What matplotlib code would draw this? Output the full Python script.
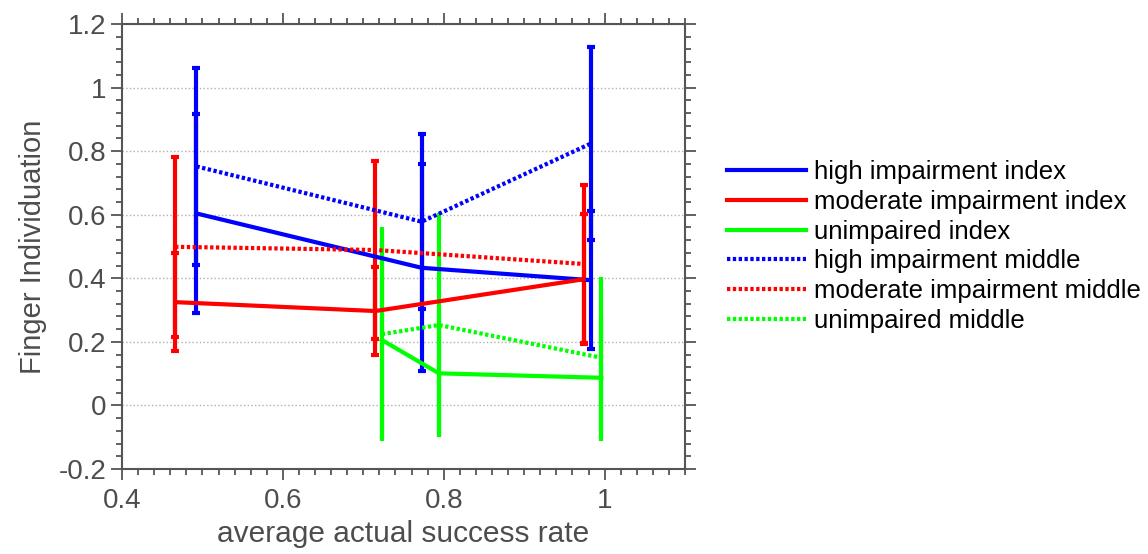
import numpy as np
import matplotlib
matplotlib.use("Agg")
import matplotlib.pyplot as plt
from matplotlib.lines import Line2D
from matplotlib.ticker import MultipleLocator, FuncFormatter

plt.rcParams['font.family'] = ['Liberation Sans', 'DejaVu Sans']
plt.rcParams['axes.unicode_minus'] = False

# success rate (x) for each group
x_high = [0.4925, 0.7725, 0.983]
x_mod = [0.466, 0.715, 0.974]
x_unimp = [0.723, 0.794, 0.996]

# finger individuation: index finger
high_index = [0.604, 0.433, 0.394]
high_index_err = [0.313, 0.325, 0.217]
mod_index = [0.325, 0.297, 0.397]
mod_index_err = [0.155, 0.137, 0.205]
unimp_index = [0.206, 0.101, 0.087]
unimp_index_err = [0.31, 0.2, 0.198]

# finger individuation: middle finger
high_middle = [0.752, 0.578, 0.824]
high_middle_err = [0.31, 0.275, 0.305]
mod_middle = [0.499, 0.489, 0.445]
mod_middle_err = [0.283, 0.28, 0.25]
unimp_middle = [0.224, 0.253, 0.15]
unimp_middle_err = [0.336, 0.353, 0.253]

labels = ["high impairment index", "moderate impairment index", "unimpaired index",
          "high impairment middle", "moderate impairment middle", "unimpaired middle"]

blue, red, green = "#0000ff", "#ff0000", "#00ff00"
dot = (0, (0.8, 0.6))

fig = plt.figure(figsize=(11.48, 5.54), dpi=100)
ax = fig.add_axes([0.1063, 0.1534, 0.4904, 0.8033])

series = [
    (x_high, high_index, high_index_err, blue, '-', 3),
    (x_mod, mod_index, mod_index_err, red, '-', 3),
    (x_unimp, unimp_index, unimp_index_err, green, '-', 0),
    (x_high, high_middle, high_middle_err, blue, dot, 3),
    (x_mod, mod_middle, mod_middle_err, red, dot, 3),
    (x_unimp, unimp_middle, unimp_middle_err, green, dot, 0),
]
handles = []
for xs, ys, es, c, ls, cs in series:
    ax.errorbar(xs, ys, yerr=es, color=c, linestyle=ls, linewidth=3,
                elinewidth=3, capsize=cs, capthick=3)
    handles.append(Line2D([], [], color=c, linestyle=ls, linewidth=3))

ax.set_xlim(0.4, 1.1)
ax.set_ylim(-0.2, 1.2)
ax.xaxis.set_major_locator(MultipleLocator(0.2))
ax.xaxis.set_minor_locator(MultipleLocator(0.02))
ax.yaxis.set_major_locator(MultipleLocator(0.2))
ax.yaxis.set_minor_locator(MultipleLocator(0.04))
fmt = FuncFormatter(lambda v, p: ("%.1f" % v).rstrip('0').rstrip('.') if abs(v) > 1e-9 else "0")
ax.xaxis.set_major_formatter(fmt)
ax.yaxis.set_major_formatter(fmt)
ax.grid(axis='y', which='major', linestyle=':', color='#b0b0b0', linewidth=1)
ax.set_axisbelow(True)

frame = '#555555'
for s in ax.spines.values():
    s.set_color(frame)
    s.set_linewidth(1.5)
ax.tick_params(which='both', direction='out', top=True, right=True,
               color=frame, width=1.3, labelcolor='#4d4d4d', labelsize=20)
ax.tick_params(which='major', length=8)
ax.tick_params(which='minor', length=4.5)
ax.tick_params(axis='x', which='major', pad=6)

ax.set_xlabel("average actual success rate", fontsize=21.5, color='#4d4d4d', labelpad=4)
ax.set_ylabel("Finger Individuation", fontsize=21, color='#4d4d4d', labelpad=8)

ax.legend(handles, labels, loc='center left', bbox_to_anchor=(1.033, 0.5),
          frameon=False, fontsize=18.5, handlelength=3.1, handletextpad=0.3,
          labelspacing=0.23)

fig.savefig("out.png", dpi=100)
